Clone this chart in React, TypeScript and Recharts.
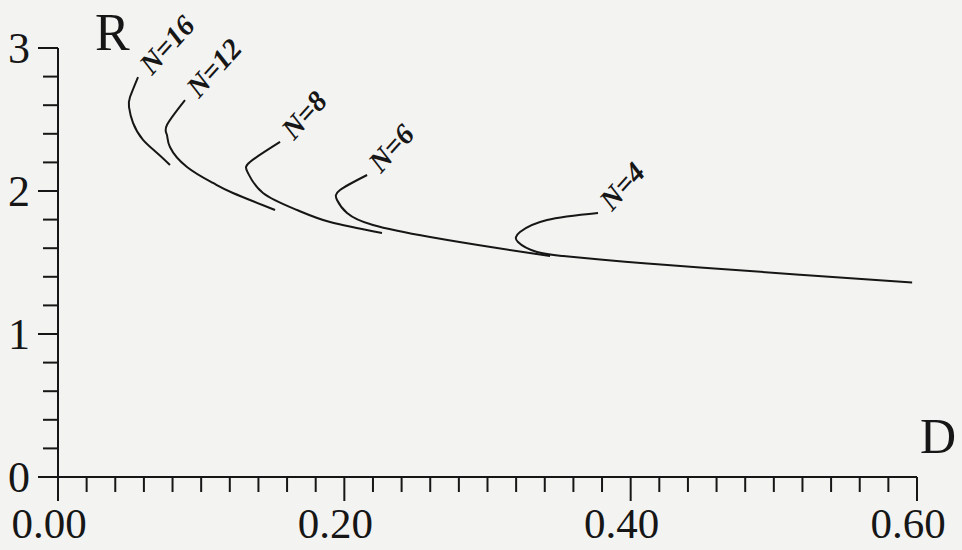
import React from 'react';
import { LineChart, Line, XAxis, YAxis, Customized } from 'recharts';

// Curve data: D (x) and R (y) for each N
const n16D = [0.0559, 0.0503, 0.0496, 0.0524, 0.0594, 0.0692, 0.0782];
const n16R = [2.797, 2.657, 2.587, 2.476, 2.357, 2.266, 2.182];

const n12D = [0.0887, 0.0761, 0.0761, 0.0782, 0.0901, 0.1083, 0.1222, 0.1516];
const n12R = [2.636, 2.462, 2.392, 2.308, 2.168, 2.056, 1.986, 1.867];

const n8D = [0.1551, 0.1341, 0.1327, 0.1432, 0.167, 0.19, 0.2263];
const n8R = [2.343, 2.203, 2.126, 1.986, 1.867, 1.783, 1.706];

const n6D = [0.2159, 0.197, 0.1949, 0.2019, 0.22, 0.2599, 0.3067, 0.3437];
const n6R = [2.112, 2.007, 1.937, 1.846, 1.762, 1.678, 1.601, 1.545];

const n4D = [0.3772, 0.3416, 0.3227, 0.3213, 0.3346, 0.3528, 0.3786, 0.4115, 0.4485, 0.5183, 0.5966];
const n4R = [1.846, 1.797, 1.713, 1.643, 1.573, 1.545, 1.521, 1.493, 1.465, 1.415, 1.36];

const seriesNames = ['N=16', 'N=12', 'N=8', 'N=6', 'N=4'];
const seriesD = [n16D, n12D, n8D, n6D, n4D];
const seriesR = [n16R, n12R, n8R, n6R, n4R];

const xTickLabels = ['0.00', '0.20', '0.40', '0.60'];
const yTickLabels = ['0', '1', '2', '3'];
const xMinorStep = 0.02;
const yMinorStep = 0.2;

const xTicks = Array.from({ length: 31 }, (_, i) => +(i * xMinorStep).toFixed(2));
const yTicks = Array.from({ length: 16 }, (_, i) => +(i * yMinorStep).toFixed(1));

const INK = '#161616';
const FONT = '"Liberation Serif", "DejaVu Serif", serif';

const XTick = (props: any) => {
  const { x, y, payload } = props;
  const idx = Math.round(payload.value / xMinorStep);
  const major = idx % 10 === 0;
  return (
    <g>
      <line x1={x} x2={x} y1={y} y2={y + (major ? 24 : 15)} stroke={INK} strokeWidth={2} />
      {major && (
        <text x={x - 9} y={y + 61} textAnchor="middle" fontFamily={FONT} fontSize={43} fill={INK}>
          {xTickLabels[idx / 10]}
        </text>
      )}
    </g>
  );
};

const YTick = (props: any) => {
  const { x, y, payload } = props;
  const idx = Math.round(payload.value / yMinorStep);
  const major = idx % 5 === 0;
  return (
    <g>
      <line x1={x - (major ? 20 : 15)} x2={x} y1={y} y2={y} stroke={INK} strokeWidth={2} />
      {major && (
        <text x={30} y={y + 15} textAnchor="end" fontFamily={FONT} fontSize={44} fill={INK}>
          {yTickLabels[idx / 5]}
        </text>
      )}
    </g>
  );
};

const makeLabel = (name: string) => (p: any) => {
  if (p.index !== 0) return <g />;
  const tx = p.x + 14;
  const ty = p.y - 1;
  return (
    <text
      x={tx}
      y={ty}
      transform={`rotate(-48 ${tx} ${ty})`}
      fontFamily={FONT}
      fontStyle="italic"
      fontWeight="bold"
      fontSize={29}
      fill={INK}
    >
      {name}
    </text>
  );
};

const AxisTitles = () => (
  <g>
    <text x={95} y={50} fontFamily={FONT} fontSize={52} fill={INK}>R</text>
    <text x={920} y={453} fontFamily={FONT} fontSize={50} fill={INK}>D</text>
  </g>
);

export default function App() {
  const series = seriesNames.map((name, i) => ({
    name,
    data: seriesD[i].map((d, j) => ({ d, r: seriesR[i][j] })),
  }));
  return (
    <div style={{ position: 'absolute', left: 0, top: 0, width: 962, height: 550, background: '#f3f3f1' }}>
      <LineChart width={962} height={550} margin={{ top: 48, right: 45, bottom: 0, left: 0 }}>
        <XAxis
          type="number"
          dataKey="d"
          domain={[0, 0.6]}
          ticks={xTicks}
          interval={0}
          height={73}
          tickSize={0}
          tickMargin={0}
          tickLine={false}
          axisLine={{ stroke: INK, strokeWidth: 2 }}
          tick={<XTick />}
          allowDataOverflow
        />
        <YAxis
          type="number"
          dataKey="r"
          domain={[0, 3]}
          ticks={yTicks}
          interval={0}
          width={58}
          tickSize={0}
          tickMargin={0}
          tickLine={false}
          axisLine={{ stroke: INK, strokeWidth: 2 }}
          tick={<YTick />}
          allowDataOverflow
        />
        {series.map((s) => (
          <Line
            key={s.name}
            data={s.data}
            dataKey="r"
            type="natural"
            stroke={INK}
            strokeWidth={2}
            dot={false}
            isAnimationActive={false}
            label={makeLabel(s.name)}
          />
        ))}
        <Customized component={AxisTitles} />
      </LineChart>
    </div>
  );
}
